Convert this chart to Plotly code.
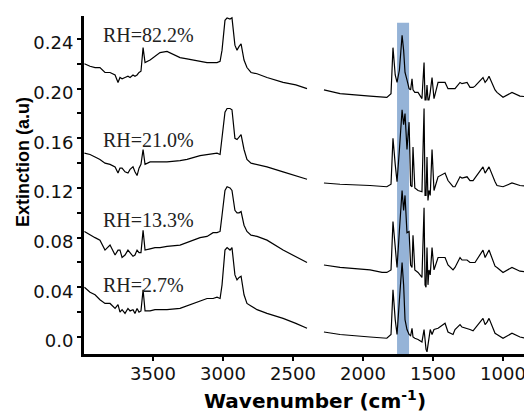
import plotly.graph_objects as go

# wavenumber grid (cm-1); the 2340 point carries None -> gap in the spectra
wavenumber = [3990, 3950, 3914, 3879, 3843, 3807, 3771, 3750, 3736, 3721,
              3700, 3679, 3664, 3643, 3629, 3614, 3600, 3586, 3571, 3557,
              3521, 3486, 3450, 3400, 3307, 3257, 3164, 3114, 3071, 3043,
              3021, 3007, 2986, 2971, 2950, 2936, 2915, 2900, 2885, 2871,
              2850, 2829, 2800, 2757, 2686, 2571, 2480, 2400,
              2340,
              2279, 2164, 1950, 1864, 1830, 1800, 1786, 1770, 1757, 1740,
              1721, 1710, 1700, 1686, 1671, 1660, 1650, 1643, 1630, 1607,
              1579, 1564, 1557, 1550, 1543, 1536, 1529, 1520, 1507, 1493,
              1464, 1414, 1393, 1357, 1343, 1307, 1293, 1257, 1236, 1214,
              1200, 1143, 1128, 1114, 1100, 1057, 1043, 1000, 936, 879, 793]

rh_82_2 = [0.220, 0.218, 0.217, 0.217, 0.213, 0.213, 0.211, 0.205, 0.209, 0.208,
           0.209, 0.210, 0.209, 0.211, 0.210, 0.211, 0.213, 0.214, 0.233, 0.221,
           0.223, 0.226, 0.229, 0.230, 0.225, 0.224, 0.222, 0.221, 0.221, 0.221,
           0.222, 0.231, 0.255, 0.257, 0.256, 0.257, 0.235, 0.231, 0.234, 0.236,
           0.223, 0.217, 0.213, 0.212, 0.209, 0.205, 0.203, 0.200,
           None,
           0.199, 0.196, 0.194, 0.193, 0.193, 0.196, 0.233, 0.211, 0.205, 0.215,
           0.243, 0.231, 0.213, 0.207, 0.200, 0.199, 0.208, 0.199, 0.197, 0.197,
           0.192, 0.221, 0.191, 0.191, 0.203, 0.191, 0.191, 0.197, 0.209, 0.192,
           0.205, 0.205, 0.200, 0.200, 0.200, 0.205, 0.204, 0.205, 0.201, 0.201,
           0.202, 0.209, 0.205, 0.207, 0.210, 0.199, 0.197, 0.193, 0.197, 0.194, 0.193]

rh_21_0 = [0.148, 0.147, 0.145, 0.143, 0.140, 0.139, 0.137, 0.132, 0.136, 0.136,
           0.133, 0.132, 0.135, 0.137, 0.133, 0.130, 0.136, 0.139, 0.151, 0.139,
           0.141, 0.141, 0.141, 0.141, 0.142, 0.143, 0.146, 0.147, 0.148, 0.148,
           0.147, 0.159, 0.181, 0.184, 0.184, 0.183, 0.160, 0.159, 0.161, 0.163,
           0.151, 0.143, 0.140, 0.139, 0.137, 0.133, 0.130, 0.127,
           None,
           0.124, 0.123, 0.122, 0.121, 0.121, 0.123, 0.160, 0.139, 0.125, 0.151,
           0.183, 0.171, 0.180, 0.151, 0.173, 0.122, 0.121, 0.153, 0.120, 0.118,
           0.117, 0.184, 0.114, 0.114, 0.145, 0.110, 0.118, 0.114, 0.151, 0.118,
           0.129, 0.132, 0.126, 0.121, 0.121, 0.129, 0.128, 0.129, 0.126, 0.126,
           0.128, 0.137, 0.132, 0.135, 0.137, 0.125, 0.122, 0.121, 0.124, 0.122, 0.121]

rh_13_3 = [0.085, 0.082, 0.080, 0.078, 0.070, 0.074, 0.066, 0.070, 0.070, 0.064,
           0.066, 0.070, 0.068, 0.065, 0.066, 0.070, 0.068, 0.068, 0.086, 0.070,
           0.071, 0.072, 0.072, 0.073, 0.074, 0.076, 0.080, 0.081, 0.084, 0.084,
           0.085, 0.098, 0.118, 0.121, 0.120, 0.118, 0.102, 0.100, 0.100, 0.101,
           0.090, 0.085, 0.082, 0.081, 0.078, 0.070, 0.065, 0.060,
           None,
           0.058, 0.056, 0.054, 0.052, 0.052, 0.054, 0.093, 0.070, 0.056, 0.086,
           0.118, 0.102, 0.114, 0.084, 0.085, 0.058, 0.056, 0.082, 0.054, 0.052,
           0.048, 0.104, 0.042, 0.040, 0.072, 0.042, 0.054, 0.050, 0.072, 0.054,
           0.064, 0.064, 0.058, 0.054, 0.056, 0.064, 0.062, 0.062, 0.060, 0.060,
           0.060, 0.070, 0.064, 0.067, 0.070, 0.057, 0.056, 0.052, 0.056, 0.053, 0.052]

rh_2_7 = [0.040, 0.036, 0.034, 0.030, 0.027, 0.027, 0.023, 0.026, 0.020, 0.022,
          0.019, 0.023, 0.021, 0.022, 0.019, 0.023, 0.020, 0.021, 0.038, 0.021,
          0.021, 0.022, 0.022, 0.022, 0.023, 0.025, 0.029, 0.031, 0.031, 0.032,
          0.031, 0.042, 0.070, 0.072, 0.070, 0.072, 0.050, 0.046, 0.048, 0.049,
          0.034, 0.027, 0.025, 0.022, 0.019, 0.015, 0.011, 0.007,
          None,
          0.004, 0.002, 0.000, -0.001, -0.001, 0.002, 0.038, 0.014, 0.002, 0.030,
          0.060, 0.042, 0.014, 0.006, 0.002, 0.001, 0.007, 0.000, -0.001, -0.002,
          -0.004, 0.006, -0.006, -0.010, -0.012, -0.006, 0.002, 0.006, 0.002, 0.006,
          0.007, 0.011, 0.004, 0.002, 0.006, 0.010, 0.008, 0.007, 0.006, 0.005,
          0.007, 0.015, 0.010, 0.012, 0.015, 0.003, 0.002, -0.001, 0.003, 0.000, -0.002]

spectra = [rh_2_7, rh_13_3, rh_21_0, rh_82_2]
labels = ["RH=2.7%", "RH=13.3%", "RH=21.0%", "RH=82.2%"]
label_y = [0.042, 0.094, 0.159, 0.243]
label_x = 3871

band = [1757, 1671]   # highlighted C=O region
yticks = [0.0, 0.04, 0.08, 0.12, 0.16, 0.20, 0.24]
yticktext = ["0.0", "0.04", "0.08", "0.12", "0.16", "0.20", "0.24"]
yminor = [0.02, 0.06, 0.10, 0.14, 0.18, 0.22]
xticks = [3500, 3000, 2500, 2000, 1500, 1000]
xrange_ = [3993, 793]
yrange_ = [-0.0137, 0.2585]

fig = go.Figure()

fig.add_shape(type="rect", xref="x", yref="y",
              x0=band[0], x1=band[1], y0=yrange_[0], y1=0.253,
              fillcolor="#95b3d7", line=dict(width=0), layer="below")

for ys in spectra:
    fig.add_trace(go.Scatter(x=wavenumber, y=ys, mode="lines",
                             line=dict(color="black", width=1.2),
                             showlegend=False))

for txt, yy in zip(labels, label_y):
    fig.add_annotation(x=label_x, y=yy, text=txt, showarrow=False,
                       xanchor="left", yanchor="middle",
                       font=dict(family="Liberation Serif", size=20, color="#222"))

# axis titles as annotations, the original has them slightly off-centre
fig.add_annotation(xref="paper", yref="paper", x=-0.136, y=0.568,
                   text="<b>Extinction (a.u)</b>", textangle=-90, showarrow=False,
                   xanchor="center", yanchor="middle",
                   font=dict(family="Liberation Sans", size=18, color="black"))
fig.add_annotation(xref="paper", yref="paper", x=0.516, y=-0.137,
                   text="<b>Wavenumber (cm<sup>-1</sup>)</b>", showarrow=False,
                   xanchor="center", yanchor="middle",
                   font=dict(family="DejaVu Sans", size=20, color="black"))

fig.update_xaxes(range=xrange_, tickvals=xticks, showgrid=False, zeroline=False,
                 showline=True, linecolor="black", linewidth=3,
                 ticks="outside", ticklen=4, tickwidth=1.5, tickcolor="black",
                 ticklabelstandoff=-3,
                 tickfont=dict(family="DejaVu Sans", size=18, color="#111"))
fig.update_yaxes(range=yrange_, tickvals=yticks, ticktext=yticktext,
                 showgrid=False, zeroline=False,
                 showline=True, linecolor="black", linewidth=3,
                 ticks="outside", ticklen=4, tickwidth=1.5, tickcolor="black",
                 minor=dict(tickvals=yminor, ticks="outside", ticklen=4,
                            tickwidth=1.5, tickcolor="black"),
                 ticklabelshift=4,
                 tickfont=dict(family="DejaVu Sans", size=18, color="#111"))

# page body adds an 8px offset, so the figure is drawn 8px smaller
fig.update_layout(width=524, height=406, margin=dict(l=76, r=0, t=8, b=60),
                  plot_bgcolor="white", paper_bgcolor="white")
fig.write_html("out.html")
